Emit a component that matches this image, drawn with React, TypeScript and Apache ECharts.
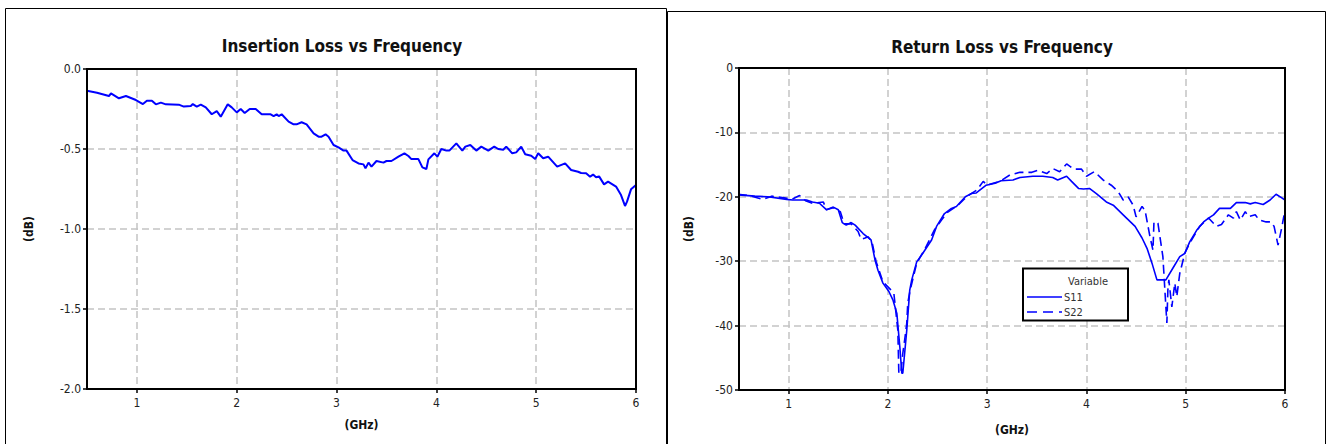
import React, { useEffect, useRef } from "react";
import * as echarts from "echarts";

const xTicks = [1, 2, 3, 4, 5, 6];

const ilFreq = [0.50,0.60,0.72,0.74,0.82,0.89,0.99,1.06,1.10,1.15,1.19,1.24,1.29,1.42,1.47,1.54,1.56,1.60,1.64,1.69,1.75,1.80,1.84,1.91,1.95,2.00,2.04,2.08,2.13,2.19,2.25,2.34,2.37,2.40,2.42,2.45,2.52,2.57,2.60,2.65,2.70,2.77,2.82,2.85,2.89,2.92,2.97,3.02,3.07,3.10,3.16,3.22,3.27,3.29,3.32,3.35,3.40,3.47,3.50,3.55,3.62,3.68,3.72,3.75,3.82,3.86,3.90,3.92,3.98,4.01,4.05,4.10,4.13,4.20,4.26,4.29,4.34,4.40,4.45,4.52,4.58,4.62,4.67,4.70,4.76,4.80,4.85,4.89,4.95,4.99,5.02,5.07,5.12,5.21,5.29,5.35,5.42,5.45,5.50,5.54,5.57,5.60,5.63,5.68,5.72,5.80,5.85,5.89,5.91,5.95,6.00];
const ilDb = [-0.136,-0.148,-0.169,-0.152,-0.183,-0.169,-0.194,-0.219,-0.198,-0.198,-0.221,-0.210,-0.221,-0.223,-0.235,-0.231,-0.219,-0.235,-0.223,-0.240,-0.283,-0.263,-0.298,-0.221,-0.240,-0.271,-0.250,-0.275,-0.250,-0.250,-0.283,-0.283,-0.294,-0.283,-0.294,-0.283,-0.329,-0.346,-0.346,-0.333,-0.346,-0.402,-0.423,-0.423,-0.408,-0.423,-0.475,-0.490,-0.510,-0.510,-0.569,-0.590,-0.596,-0.621,-0.585,-0.610,-0.575,-0.585,-0.575,-0.575,-0.548,-0.527,-0.544,-0.563,-0.563,-0.615,-0.625,-0.565,-0.527,-0.548,-0.500,-0.510,-0.510,-0.465,-0.510,-0.485,-0.475,-0.510,-0.485,-0.510,-0.485,-0.500,-0.505,-0.485,-0.527,-0.521,-0.485,-0.533,-0.542,-0.563,-0.527,-0.558,-0.548,-0.610,-0.590,-0.631,-0.642,-0.650,-0.652,-0.673,-0.660,-0.677,-0.671,-0.721,-0.704,-0.735,-0.788,-0.856,-0.829,-0.752,-0.725];

const s11Freq = [0.49,0.66,0.79,0.98,1.04,1.18,1.24,1.31,1.38,1.45,1.50,1.54,1.58,1.63,1.67,1.75,1.83,1.87,1.90,1.95,2.01,2.05,2.09,2.12,2.14,2.15,2.19,2.22,2.24,2.29,2.35,2.44,2.49,2.57,2.64,2.69,2.78,2.84,2.89,2.99,3.08,3.14,3.26,3.33,3.46,3.56,3.66,3.71,3.80,3.85,3.92,3.97,4.03,4.10,4.20,4.27,4.37,4.49,4.56,4.61,4.66,4.71,4.80,4.87,4.94,4.99,5.04,5.11,5.18,5.23,5.28,5.34,5.45,5.51,5.60,5.65,5.70,5.78,5.85,5.91,5.96,6.00];
const s11Db = [-19.7,-19.9,-20.0,-20.4,-20.5,-20.5,-20.8,-21.0,-22.0,-21.6,-22.0,-24.0,-24.4,-24.0,-24.4,-25.7,-26.7,-29.8,-31.4,-33.4,-34.7,-36.0,-38.1,-43.3,-47.4,-47.4,-40.7,-34.5,-32.9,-30.1,-28.8,-26.7,-24.6,-22.6,-21.8,-21.5,-20.0,-19.5,-19.4,-18.2,-17.9,-17.5,-17.4,-17.0,-16.8,-16.8,-17.0,-17.4,-16.8,-17.6,-18.7,-18.8,-18.7,-19.5,-20.8,-21.3,-22.8,-24.6,-26.4,-28.0,-30.3,-32.9,-32.9,-31.1,-29.3,-28.8,-27.0,-25.2,-23.9,-23.3,-22.8,-21.8,-21.8,-20.9,-20.9,-21.1,-20.9,-21.2,-20.5,-19.6,-20.1,-20.5];

const s22Freq = [0.49,0.60,0.74,0.83,0.97,1.03,1.11,1.17,1.24,1.35,1.38,1.45,1.52,1.56,1.63,1.70,1.73,1.77,1.80,1.84,1.88,1.95,2.02,2.06,2.07,2.10,2.11,2.13,2.15,2.17,2.19,2.20,2.22,2.29,2.37,2.47,2.54,2.60,2.70,2.76,2.81,2.90,2.96,3.00,3.06,3.13,3.23,3.33,3.45,3.51,3.60,3.66,3.73,3.80,3.87,3.95,4.00,4.08,4.17,4.25,4.32,4.37,4.42,4.47,4.50,4.56,4.59,4.64,4.67,4.68,4.72,4.77,4.79,4.81,4.82,4.83,4.86,4.89,4.91,4.94,4.99,5.04,5.14,5.23,5.31,5.36,5.43,5.48,5.51,5.55,5.60,5.63,5.70,5.74,5.81,5.86,5.89,5.93,5.97,6.00];
const s22Db = [-19.6,-19.8,-20.4,-19.9,-20.2,-20.4,-19.8,-20.6,-21.0,-20.8,-22.0,-21.7,-22.3,-24.2,-24.2,-25.4,-26.6,-26.4,-26.2,-27.0,-30.0,-33.2,-34.3,-35.0,-36.4,-40.7,-47.4,-47.4,-44.3,-42.1,-39.6,-36.5,-34.8,-30.3,-28.2,-25.1,-23.6,-22.4,-21.4,-20.5,-19.8,-18.9,-17.6,-18.2,-17.9,-17.6,-16.6,-16.2,-16.2,-15.9,-16.4,-15.6,-16.1,-14.9,-15.7,-15.7,-16.8,-16.1,-17.4,-18.2,-19.2,-20.5,-20.0,-21.3,-23.1,-21.5,-22.1,-26.2,-28.3,-23.9,-24.1,-29.3,-34.5,-39.6,-34.5,-32.9,-37.1,-33.4,-35.5,-31.9,-28.8,-27.2,-24.6,-23.3,-24.6,-24.3,-22.8,-23.3,-22.3,-23.6,-22.3,-23.1,-22.8,-23.6,-23.9,-23.9,-24.6,-27.5,-24.6,-22.0];

const titles = ["Insertion Loss vs Frequency", "Return Loss vs Frequency"];
const seriesNames = ["S11", "S22"];
const legendTitle = "Variable";

const FONT = "'Liberation Sans Narrow', 'DejaVu Sans Condensed', 'Liberation Sans', sans-serif";
const BLUE = "#0000ff";

const G1 = { left: 87, top: 69, width: 549, height: 320 };
const G2 = { left: 739, top: 68, width: 546, height: 322 };

const zip = (a: number[], b: number[]) => a.map((v, i) => [v, b[i]]);

function xAxisCfg(gridIndex: number, gap: number) {
  return {
    type: "value",
    gridIndex,
    min: 0.5,
    max: 6,
    name: "(GHz)",
    nameLocation: "middle",
    nameGap: gap,
    nameTextStyle: { fontFamily: FONT, fontWeight: "bold", fontSize: 12, color: "#111" },
    axisLine: { onZero: false, lineStyle: { color: "#000", width: 2 } },
    axisTick: { show: true, length: 4, customValues: xTicks, lineStyle: { color: "#000", width: 1.5 } },
    axisLabel: { customValues: xTicks, fontFamily: FONT, fontSize: 12, color: "#222", margin: 8 },
    splitLine: { show: true, lineStyle: { type: [7, 4], color: "#c4c4c4", width: 1.5 } },
  };
}

function yAxisCfg(gridIndex: number, min: number, interval: number, gap: number, fmt: (v: number) => string) {
  return {
    type: "value",
    gridIndex,
    min,
    max: 0,
    interval,
    name: "(dB)",
    nameLocation: "middle",
    nameGap: gap,
    nameTextStyle: { fontFamily: FONT, fontWeight: "bold", fontSize: 12, color: "#111" },
    axisLine: { show: true, onZero: false, lineStyle: { color: "#000", width: 2 } },
    axisTick: { show: true, length: 4, lineStyle: { color: "#000", width: 1.5 } },
    axisLabel: { fontFamily: FONT, fontSize: 12, color: "#222", margin: 6, formatter: fmt },
    splitLine: { show: true, lineStyle: { type: [7, 4], color: "#c4c4c4", width: 1.5 } },
  };
}

function frame(g: { left: number; top: number; width: number; height: number }) {
  return {
    type: "rect",
    shape: { x: g.left, y: g.top, width: g.width, height: g.height },
    style: { fill: "none", stroke: "#000", lineWidth: 2 },
    z: 15,
    silent: true,
  };
}

export default function App() {
  const ref = useRef<HTMLDivElement>(null);
  useEffect(() => {
    if (!ref.current) return;
    const chart = echarts.init(ref.current, null, { renderer: "svg" });
    chart.setOption({
      animation: false,
      backgroundColor: "#fff",
      title: [
        { text: titles[0], left: 337, top: 32, textAlign: "center", textStyle: { fontFamily: FONT, fontWeight: "bold", fontSize: 17, color: "#111" } },
        { text: titles[1], left: 997, top: 33, textAlign: "center", textStyle: { fontFamily: FONT, fontWeight: "bold", fontSize: 17, color: "#111" } },
      ],
      grid: [
        { ...G1, show: false },
        { ...G2, show: false },
      ],
      xAxis: [xAxisCfg(0, 30), xAxisCfg(1, 34)],
      yAxis: [
        yAxisCfg(0, -2, 0.5, 52, (v: number) => v.toFixed(1)),
        yAxisCfg(1, -50, 10, 44, (v: number) => String(v)),
      ],
      series: [
        { type: "line", xAxisIndex: 0, yAxisIndex: 0, data: zip(ilFreq, ilDb), showSymbol: false, lineStyle: { color: BLUE, width: 2 }, itemStyle: { color: BLUE } },
        { name: seriesNames[0], type: "line", xAxisIndex: 1, yAxisIndex: 1, data: zip(s11Freq, s11Db), showSymbol: false, lineStyle: { color: BLUE, width: 1.6 }, itemStyle: { color: BLUE } },
        { name: seriesNames[1], type: "line", xAxisIndex: 1, yAxisIndex: 1, data: zip(s22Freq, s22Db), showSymbol: false, lineStyle: { color: BLUE, width: 1.6, type: [9, 5] }, itemStyle: { color: BLUE } },
      ],
      graphic: [
        { type: "rect", shape: { x: 5.5, y: 8.5, width: 661, height: 460 }, style: { fill: "none", stroke: "#000", lineWidth: 1 }, z: 10 },
        { type: "rect", shape: { x: 667.5, y: 11.5, width: 658, height: 460 }, style: { fill: "none", stroke: "#000", lineWidth: 1 }, z: 10 },
        frame(G1),
        frame(G2),
        { type: "rect", shape: { x: 1023, y: 268.5, width: 105, height: 52 }, style: { fill: "#fff", stroke: "#000", lineWidth: 2 }, z: 20 },
        { type: "text", x: 1088, y: 281, style: { text: legendTitle, fontFamily: FONT, fontSize: 11, fill: "#333", textAlign: "center", textVerticalAlign: "middle" }, z: 21 },
        { type: "line", shape: { x1: 1027, y1: 297, x2: 1062, y2: 297 }, style: { stroke: BLUE, lineWidth: 1.6 }, z: 21 },
        { type: "text", x: 1064, y: 297, style: { text: seriesNames[0], fontFamily: FONT, fontSize: 11, fill: "#333", textVerticalAlign: "middle" }, z: 21 },
        { type: "line", shape: { x1: 1027, y1: 312, x2: 1062, y2: 312 }, style: { stroke: BLUE, lineWidth: 1.6, lineDash: [10, 6] }, z: 21 },
        { type: "text", x: 1064, y: 312, style: { text: seriesNames[1], fontFamily: FONT, fontSize: 11, fill: "#333", textVerticalAlign: "middle" }, z: 21 },
      ],
    });
    return () => chart.dispose();
  }, []);
  return <div ref={ref} style={{ position: "absolute", left: 0, top: 0, width: 1328, height: 444 }} />;
}
